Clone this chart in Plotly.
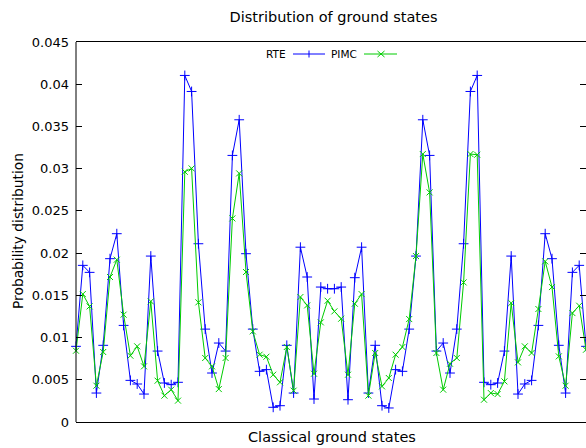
import plotly.graph_objects as go

# Ground-state index (x) and probabilities for each method
states = list(range(1, 77))

rte = [
    0.00896, 0.01855, 0.01772, 0.00343, 0.00908, 0.01934, 0.02230, 0.01144,
    0.00493, 0.00450, 0.00331, 0.01965, 0.00840, 0.00462, 0.00442, 0.00470,
    0.04104, 0.03914, 0.02111, 0.01100, 0.00580, 0.00935, 0.00840, 0.03157,
    0.03579, 0.01993, 0.01100, 0.00600, 0.00620, 0.00174, 0.00193, 0.00908,
    0.00343, 0.02070, 0.01717, 0.00272, 0.01598, 0.01578, 0.01578, 0.01598,
    0.00264, 0.01709, 0.02070, 0.00343, 0.00908, 0.00193, 0.00166, 0.00620,
    0.00600, 0.01100, 0.01965, 0.03579, 0.03157, 0.00840, 0.00935, 0.00580,
    0.01100, 0.02111, 0.03914, 0.04104, 0.00470, 0.00442, 0.00462, 0.00840,
    0.01965, 0.00331, 0.00450, 0.00493, 0.01144, 0.02230, 0.01934, 0.00908,
    0.00343, 0.01772, 0.01855, 0.00896,
]

pimc = [
    0.00844, 0.01515, 0.01369, 0.00430, 0.00829, 0.01717, 0.01922, 0.01271,
    0.00785, 0.00896, 0.00659, 0.01428, 0.00489, 0.00312, 0.00383, 0.00253,
    0.02963, 0.03003, 0.01417, 0.00758, 0.00659, 0.00390, 0.00758, 0.02411,
    0.02944, 0.01776, 0.01073, 0.00797, 0.00773, 0.00560, 0.00470, 0.00888,
    0.00371, 0.01480, 0.01381, 0.00572, 0.01180, 0.01436, 0.01310, 0.01223,
    0.00560, 0.01401, 0.01515, 0.00312, 0.00817, 0.00422, 0.00521, 0.00797,
    0.00888, 0.01219, 0.01965, 0.03173, 0.02719, 0.00817, 0.00383, 0.00690,
    0.00758, 0.01653, 0.03173, 0.03165, 0.00264, 0.00343, 0.00331, 0.00481,
    0.01409, 0.00706, 0.00896, 0.00817, 0.01338, 0.01902, 0.01598, 0.00777,
    0.00430, 0.01290, 0.01377, 0.00856,
]

y_ticks = [0, 0.005, 0.01, 0.015, 0.02, 0.025, 0.03, 0.035, 0.04, 0.045]
y_tick_text = ["0", "0.005", "0.01", "0.015", "0.02", "0.025", "0.03", "0.035", "0.04", "0.045"]

BLUE = "#0000ff"
GREEN = "#00cc00"
FONT = "DejaVu Sans"

W, H = 586, 448
L, R, T, B = 76, 0, 42, 26
PW, PH = W - L - R, H - T - B


def px_x(px):
    return (px - L) / PW


def px_y(py):
    return (H - B - py) / PH


fig = go.Figure()
fig.add_trace(go.Scatter(
    x=states, y=rte, mode="lines+markers", name="RTE",
    line=dict(color=BLUE, width=1),
    marker=dict(symbol="cross-thin", size=7, line=dict(color=BLUE, width=1)),
    cliponaxis=False,
))
fig.add_trace(go.Scatter(
    x=states, y=pimc, mode="lines+markers", name="PIMC",
    line=dict(color=GREEN, width=1),
    marker=dict(symbol="x-thin", size=6, line=dict(color=GREEN, width=1)),
    cliponaxis=False,
))

# Key: label followed by a line sample with its point symbol
ly = px_y(54)
shapes = [
    # left border of the frame (the right one falls just past the page edge)
    dict(type="line", xref="paper", yref="paper", x0=0, x1=0, y0=0, y1=1,
         line=dict(color="black", width=1)),
    dict(type="line", xref="paper", yref="paper", x0=px_x(293), x1=px_x(325), y0=ly, y1=ly,
         line=dict(color=BLUE, width=1)),
    dict(type="line", xref="paper", yref="paper", x0=px_x(309), x1=px_x(309),
         y0=ly - 3.5 / PH, y1=ly + 3.5 / PH, line=dict(color=BLUE, width=1)),
    dict(type="line", xref="paper", yref="paper", x0=px_x(364), x1=px_x(397), y0=ly, y1=ly,
         line=dict(color=GREEN, width=1)),
    dict(type="line", xref="paper", yref="paper", x0=px_x(377.5), x1=px_x(384.5),
         y0=ly - 3 / PH, y1=ly + 3 / PH, line=dict(color=GREEN, width=1)),
    dict(type="line", xref="paper", yref="paper", x0=px_x(377.5), x1=px_x(384.5),
         y0=ly + 3 / PH, y1=ly - 3 / PH, line=dict(color=GREEN, width=1)),
]

annotations = [
    dict(text="RTE", xref="paper", yref="paper", x=px_x(288), y=ly, xanchor="right",
         yanchor="middle", showarrow=False, font=dict(size=10.5, color="black", family=FONT)),
    dict(text="PIMC", xref="paper", yref="paper", x=px_x(359), y=ly, xanchor="right",
         yanchor="middle", showarrow=False, font=dict(size=10.5, color="black", family=FONT)),
    dict(text="Probability distribution", xref="paper", yref="paper", x=px_x(18), y=px_y(231),
         xanchor="center", yanchor="middle", textangle=-90, showarrow=False,
         font=dict(size=13.8, color="black", family=FONT)),
    dict(text="Classical ground states", xref="paper", yref="paper", x=px_x(332), y=px_y(437),
         xanchor="center", yanchor="middle", showarrow=False,
         font=dict(size=14.5, color="black", family=FONT)),
]

fig.update_layout(
    width=W, height=H,
    margin=dict(l=L, r=R, t=T, b=B),
    paper_bgcolor="white", plot_bgcolor="white",
    showlegend=False,
    font=dict(family=FONT, size=13, color="black"),
    title=dict(text="Distribution of ground states", x=333.5 / W,
               xanchor="center", y=1 - 17 / H, yanchor="middle", yref="container",
               font=dict(size=14.5, color="black", family=FONT)),
    shapes=shapes,
    annotations=annotations,
)
fig.update_xaxes(
    range=[1, 76], showgrid=False, zeroline=False, showticklabels=False,
    ticks="", showline=True, linecolor="black", linewidth=1, mirror=True,
)
fig.update_yaxes(
    range=[0, 0.045], tickvals=y_ticks, ticktext=y_tick_text,
    showgrid=False, zeroline=False, ticks="inside", ticklen=6, tickwidth=1,
    tickcolor="black", showline=False, mirror="allticks",
    ticklabelstandoff=6, tickfont=dict(size=13, color="black", family=FONT),
)

fig.write_html("out.html")
